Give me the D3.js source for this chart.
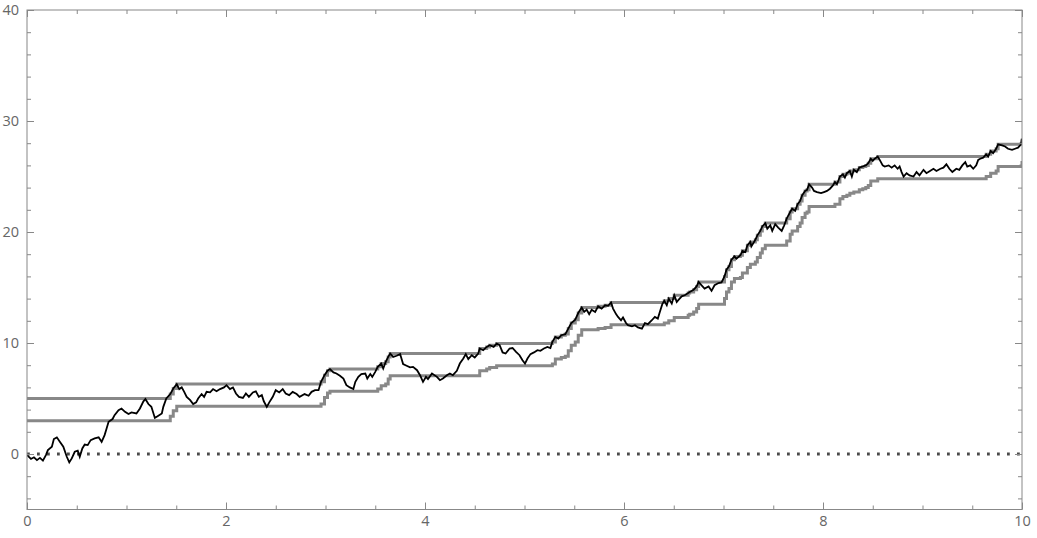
<!DOCTYPE html>
<html>
<head>
<meta charset="utf-8">
<script src="https://cdn.jsdelivr.net/npm/d3@7"></script>
<style>
  html, body { margin: 0; padding: 0; background: #fff; }
  #chart { width: 1037px; height: 538px; }
  .tick text { font-family: "Open Sans", "DejaVu Sans", sans-serif; font-size: 14.5px; fill: #666; }
  .tick line { stroke: #888; }
</style>
</head>
<body>
<div id="chart"></div>
<script>
// walk values, [t, value]
const walkPoints = [
  [0,-0.1],[0.04,-0.45],[0.07,-0.3],[0.10,-0.55],[0.13,-0.35],[0.16,-0.6],[0.19,-0.1],[0.21,0.35],[0.25,0.65],[0.27,1.35],
  [0.30,1.5],[0.33,1.1],[0.365,0.65],[0.40,-0.25],[0.425,-0.75],[0.45,-0.4],[0.48,0.2],[0.51,0.3],[0.53,-0.25],[0.556,0.5],
  [0.58,0.85],[0.61,0.8],[0.64,1.25],[0.68,1.4],[0.72,1.5],[0.75,1.1],[0.78,1.7],[0.80,2.3],[0.82,2.9],[0.86,3.15],
  [0.88,3.5],[0.92,3.95],[0.95,4.1],[0.985,3.8],[1.02,3.6],[1.05,3.75],[1.10,3.65],[1.135,4.1],[1.17,4.75],[1.19,4.95],
  [1.22,4.5],[1.25,4.25],[1.285,3.25],[1.32,3.45],[1.355,3.65],[1.37,4.25],[1.40,5.0],[1.44,5.4],[1.47,5.9],[1.505,6.3],
  [1.53,5.85],[1.555,6.0],[1.58,5.6],[1.605,5.15],[1.64,4.85],[1.67,4.5],[1.70,4.65],[1.72,5.0],[1.755,5.4],[1.78,5.15],
  [1.805,5.6],[1.84,5.55],[1.87,5.85],[1.905,5.65],[1.94,5.85],[1.98,6.0],[2.005,6.2],[2.04,5.85],[2.07,6.0],[2.10,5.45],
  [2.13,5.15],[2.17,5.05],[2.20,5.45],[2.23,5.15],[2.27,5.55],[2.30,5.65],[2.33,5.15],[2.36,5.3],[2.38,4.75],[2.41,4.25],
  [2.435,4.65],[2.47,5.15],[2.50,5.75],[2.535,5.55],[2.57,5.85],[2.60,5.45],[2.635,5.3],[2.67,5.6],[2.71,5.4],[2.74,5.15],
  [2.79,5.4],[2.83,5.25],[2.86,5.6],[2.895,5.75],[2.93,5.75],[2.955,6.5],[2.99,7.1],[3.02,7.5],[3.045,7.65],[3.08,7.35],
  [3.11,7.25],[3.145,7.05],[3.18,6.8],[3.21,6.2],[3.245,6.0],[3.28,5.85],[3.30,6.5],[3.33,6.95],[3.36,7.2],[3.40,7.25],
  [3.42,6.8],[3.45,7.2],[3.47,6.95],[3.50,7.4],[3.525,7.85],[3.56,8.15],[3.58,7.7],[3.605,8.3],[3.63,8.75],[3.65,9.05],
  [3.68,8.75],[3.715,8.85],[3.75,9.0],[3.78,8.1],[3.815,7.95],[3.85,7.8],[3.88,7.85],[3.92,7.55],[3.95,7.1],[3.98,6.5],
  [4.01,6.95],[4.03,6.75],[4.07,7.25],[4.12,6.95],[4.15,6.65],[4.18,6.8],[4.22,7.1],[4.25,7.25],[4.28,7.1],[4.32,7.5],
  [4.35,8.15],[4.385,8.6],[4.41,9.0],[4.435,8.55],[4.47,8.9],[4.50,8.7],[4.535,9.05],[4.55,9.5],[4.585,9.35],[4.62,9.65],
  [4.65,9.8],[4.69,9.65],[4.72,9.95],[4.75,9.8],[4.78,9.15],[4.81,9.05],[4.85,9.5],[4.88,9.55],[4.915,9.2],[4.95,8.9],
  [4.98,8.45],[5.005,8.15],[5.03,8.6],[5.06,9.0],[5.095,9.15],[5.13,9.35],[5.16,9.3],[5.195,9.5],[5.23,9.65],[5.26,9.55],
  [5.28,10.1],[5.31,10.55],[5.34,10.4],[5.37,10.7],[5.41,10.8],[5.44,11.3],[5.47,11.8],[5.51,12.1],[5.54,12.7],[5.575,13.2],
  [5.60,12.8],[5.625,13.0],[5.65,12.6],[5.675,13.0],[5.71,12.8],[5.74,13.3],[5.775,13.1],[5.81,13.4],[5.84,13.35],[5.87,13.65],
  [5.89,13.1],[5.92,12.6],[5.94,12.35],[5.97,12.05],[5.99,12.3],[6.02,11.8],[6.04,11.6],[6.08,11.5],[6.11,11.6],[6.14,11.4],
  [6.18,11.3],[6.21,11.8],[6.24,11.7],[6.28,12.05],[6.31,12.35],[6.34,12.2],[6.36,12.8],[6.385,13.5],[6.405,13.8],[6.43,13.4],
  [6.45,14.0],[6.48,13.55],[6.505,14.3],[6.53,13.7],[6.55,13.9],[6.58,14.2],[6.61,14.3],[6.645,14.5],[6.66,14.6],[6.70,14.8],
  [6.73,15.1],[6.75,15.5],[6.78,15.2],[6.81,14.9],[6.85,15.1],[6.88,14.7],[6.91,15.2],[6.95,15.4],[6.98,15.45],[7.01,16.0],
  [7.03,16.6],[7.055,16.9],[7.08,17.5],[7.11,17.8],[7.13,17.6],[7.17,17.9],[7.19,18.3],[7.22,18.2],[7.24,18.8],[7.27,19.1],
  [7.28,18.7],[7.32,19.3],[7.34,19.7],[7.37,20.1],[7.39,20.5],[7.42,20.8],[7.44,20.3],[7.47,20.6],[7.49,20.1],[7.52,20.7],
  [7.55,20.4],[7.585,20.1],[7.61,20.6],[7.635,21.2],[7.67,21.8],[7.69,22.1],[7.72,21.9],[7.745,22.5],[7.77,22.8],[7.79,23.3],
  [7.82,23.7],[7.84,23.8],[7.86,24.3],[7.89,24.0],[7.91,23.7],[7.94,23.6],[7.98,23.5],[8.01,23.6],[8.04,23.7],[8.07,23.9],
  [8.10,24.2],[8.12,24.5],[8.14,24.3],[8.17,25.0],[8.20,25.2],[8.22,24.9],[8.24,25.3],[8.27,25.5],[8.29,25.0],[8.31,25.6],
  [8.34,25.4],[8.365,25.8],[8.40,25.9],[8.43,26.0],[8.455,26.2],[8.48,26.6],[8.50,26.4],[8.52,26.6],[8.55,26.8],[8.57,26.5],
  [8.60,26.0],[8.62,25.9],[8.66,26.0],[8.69,25.8],[8.72,26.0],[8.75,25.7],[8.77,25.9],[8.79,25.4],[8.81,25.0],[8.84,25.3],
  [8.87,25.1],[8.91,25.0],[8.94,25.4],[8.97,25.1],[9.01,25.6],[9.04,25.3],[9.075,25.5],[9.11,25.7],[9.14,25.5],[9.18,25.7],
  [9.21,25.8],[9.24,26.1],[9.27,25.7],[9.30,25.4],[9.34,25.7],[9.37,25.6],[9.40,26.0],[9.43,26.3],[9.45,25.9],[9.48,26.0],
  [9.51,25.7],[9.54,26.0],[9.56,26.5],[9.58,26.6],[9.61,26.7],[9.64,27.0],[9.66,26.8],[9.685,27.3],[9.71,27.1],[9.74,27.5],
  [9.76,27.9],[9.80,27.8],[9.83,27.7],[9.86,27.5],[9.90,27.4],[9.93,27.5],[9.96,27.6],[9.99,27.9],[10.0,28.4]
];

// upper grey level (running high), [t, level]
const highPoints = [
  [0,5.0],[1.40,5.0],[1.44,5.4],[1.47,5.9],[1.505,6.3],[2.955,6.5],[2.99,7.1],[3.02,7.5],[3.045,7.65],
  [3.525,7.85],[3.56,8.15],[3.605,8.3],[3.63,8.75],[3.65,9.05],[4.55,9.5],[4.62,9.65],[4.65,9.8],[4.72,9.95],
  [5.28,10.1],[5.31,10.55],[5.37,10.7],[5.41,10.8],[5.44,11.3],[5.47,11.8],[5.51,12.1],[5.54,12.7],[5.575,13.2],
  [5.74,13.3],[5.81,13.4],[5.87,13.65],[6.405,13.8],[6.45,14.0],[6.505,14.3],[6.645,14.5],[6.66,14.6],[6.70,14.8],
  [6.73,15.1],[6.75,15.5],[7.01,16.0],[7.03,16.6],[7.055,16.9],[7.08,17.5],[7.11,17.8],[7.17,17.9],[7.19,18.3],
  [7.24,18.8],[7.27,19.1],[7.32,19.3],[7.34,19.7],[7.37,20.1],[7.39,20.5],[7.42,20.8],[7.635,21.2],[7.67,21.8],
  [7.69,22.1],[7.745,22.5],[7.77,22.8],[7.79,23.3],[7.82,23.7],[7.84,23.8],[7.86,24.3],[8.12,24.5],[8.17,25.0],
  [8.20,25.2],[8.24,25.3],[8.27,25.5],[8.31,25.6],[8.365,25.8],[8.40,25.9],[8.43,26.0],[8.455,26.2],[8.48,26.6],
  [8.55,26.8],[9.64,27.0],[9.685,27.3],[9.74,27.5],[9.76,27.9],[9.99,27.95],[10.0,28.4]
];
const bandGap = 2;   // lower grey sits this far under the high

// axis ticks
const xMajorTicks = [0, 2, 4, 6, 8, 10];
const xMinorTicks = [0.5, 1, 1.5, 2.5, 3, 3.5, 4.5, 5, 5.5, 6.5, 7, 7.5, 8.5, 9, 9.5];
const yMajorTicks = [0, 10, 20, 30, 40];
const yMinorTicks = [-4, -2, 2, 4, 6, 8, 12, 14, 16, 18, 22, 24, 26, 28, 32, 34, 36, 38];

// layout
const width = 1037, height = 538;
const margin = {t:10, r:15, b:28.5, l:27};

const svg = d3.select('#chart').append('svg')
    .attr('width', width)
    .attr('height', height);

const scaleX = d3.scaleLinear()
    .domain([0, 10])
    .range([margin.l, width - margin.r]);

const scaleY = d3.scaleLinear()
    .domain([-5, 40])
    .range([height - margin.b, margin.t]);

const x0 = scaleX.range()[0], x1 = scaleX.range()[1];
const y0 = scaleY.range()[0], y1 = scaleY.range()[1];

// clip so nothing leaks past the frame
svg.append('clipPath').attr('id', 'plot-clip')
    .append('rect')
    .attr('x', x0).attr('y', y1)
    .attr('width', x1 - x0).attr('height', y0 - y1);

const plot = svg.append('g').attr('clip-path', 'url(#plot-clip)');

// zero reference, dotted
plot.append('line')
    .attr('x1', scaleX(0)).attr('x2', scaleX(10))
    .attr('y1', scaleY(0)).attr('y2', scaleY(0))
    .style('stroke', '#4a4a4a')
    .style('stroke-width', 2.8)
    .style('stroke-dasharray', '2.8,7.2');

const stepLine = offset => d3.line()
    .x(d => scaleX(d[0]))
    .y(d => scaleY(d[1] - offset))
    .curve(d3.curveStepAfter);

// grey running high and the band under it
plot.append('path')
    .datum(highPoints)
    .attr('d', stepLine(0))
    .style('fill', 'none')
    .style('stroke', '#888')
    .style('stroke-width', 3);

plot.append('path')
    .datum(highPoints)
    .attr('d', stepLine(bandGap))
    .style('fill', 'none')
    .style('stroke', '#888')
    .style('stroke-width', 3);

// the walk itself
plot.append('path')
    .datum(walkPoints)
    .attr('d', d3.line().x(d => scaleX(d[0])).y(d => scaleY(d[1])))
    .style('fill', 'none')
    .style('stroke', '#000')
    .style('stroke-width', 1.8)
    .style('stroke-linejoin', 'miter');

// frame
svg.append('rect')
    .attr('x', x0).attr('y', y1)
    .attr('width', x1 - x0).attr('height', y0 - y1)
    .style('fill', 'none')
    .style('stroke', '#888')
    .style('stroke-width', 1);

// axes, ticks pointing into the frame
function addAxis(axis, tx, ty) {
    const g = svg.append('g')
        .attr('transform', `translate(${tx},${ty})`)
        .call(axis);
    g.select('.domain').remove();
    return g;
}

addAxis(d3.axisBottom(scaleX).tickValues(xMajorTicks).tickSize(-7).tickPadding(6).tickFormat(d3.format('d')), 0, y0);
addAxis(d3.axisBottom(scaleX).tickValues(xMinorTicks).tickSize(-4).tickFormat(''), 0, y0);
addAxis(d3.axisTop(scaleX).tickValues(xMajorTicks).tickSize(-7).tickFormat(''), 0, y1);
addAxis(d3.axisTop(scaleX).tickValues(xMinorTicks).tickSize(-4).tickFormat(''), 0, y1);

addAxis(d3.axisLeft(scaleY).tickValues(yMajorTicks).tickSize(-7).tickPadding(8).tickFormat(d3.format('d')), x0, 0);
addAxis(d3.axisLeft(scaleY).tickValues(yMinorTicks).tickSize(-4).tickFormat(''), x0, 0);
addAxis(d3.axisRight(scaleY).tickValues(yMajorTicks).tickSize(-7).tickFormat(''), x1, 0);
addAxis(d3.axisRight(scaleY).tickValues(yMinorTicks).tickSize(-4).tickFormat(''), x1, 0);
</script>
</body>
</html>
